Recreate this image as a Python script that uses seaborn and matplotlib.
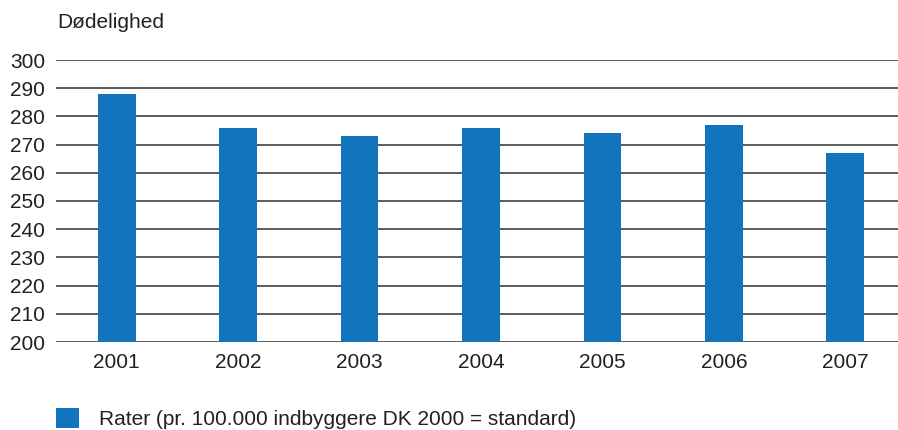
import matplotlib
matplotlib.use('Agg')
import matplotlib.pyplot as plt
from matplotlib.patches import Patch
import seaborn as sns

years = ['2001', '2002', '2003', '2004', '2005', '2006', '2007']
rates = [288, 276, 273, 276, 274, 277, 267]
yticks = list(range(200, 301, 10))

sns.set_style('white')
plt.rcParams['font.family'] = ['Liberation Sans', 'DejaVu Sans']

blue = '#1174bd'
txt = '#231f20'
fs = 15

fig = plt.figure(figsize=(8.98, 4.30), dpi=100)
ax = fig.add_axes([56 / 898, 88 / 430, 850 / 898, 282 / 430])

for v in yticks:
    ax.axhline(v, color='#404040', lw=1.2, zorder=0)

sns.barplot(x=years, y=rates, color=blue, width=0.31, saturation=1,
            linewidth=0, ax=ax, zorder=2)

ax.set_ylim(200, 300)
ax.set_xlim(-0.5, 6.5)
ax.set_yticks(yticks)
for s in ax.spines.values():
    s.set_visible(False)
ax.tick_params(axis='both', length=0, labelsize=fs, colors=txt)
ax.tick_params(axis='y', pad=8)
ax.tick_params(axis='x', pad=8)
ax.set_xlabel('')
ax.set_ylabel('')

fig.text(57 / 898, 1 - 22 / 430, 'Dødelighed', fontsize=fs, color=txt, va='center', ha='left')

handle = Patch(facecolor=blue, edgecolor='none')
fig.legend([handle], ['Rater (pr. 100.000 indbyggere DK 2000 = standard)'],
           loc='lower left', bbox_to_anchor=(56 / 898, 1 / 430), frameon=False,
           fontsize=fs, handlelength=1.1, handleheight=1.1, handletextpad=0.95,
           borderpad=0, borderaxespad=0, labelcolor=txt)

fig.savefig('out.png', dpi=100)
